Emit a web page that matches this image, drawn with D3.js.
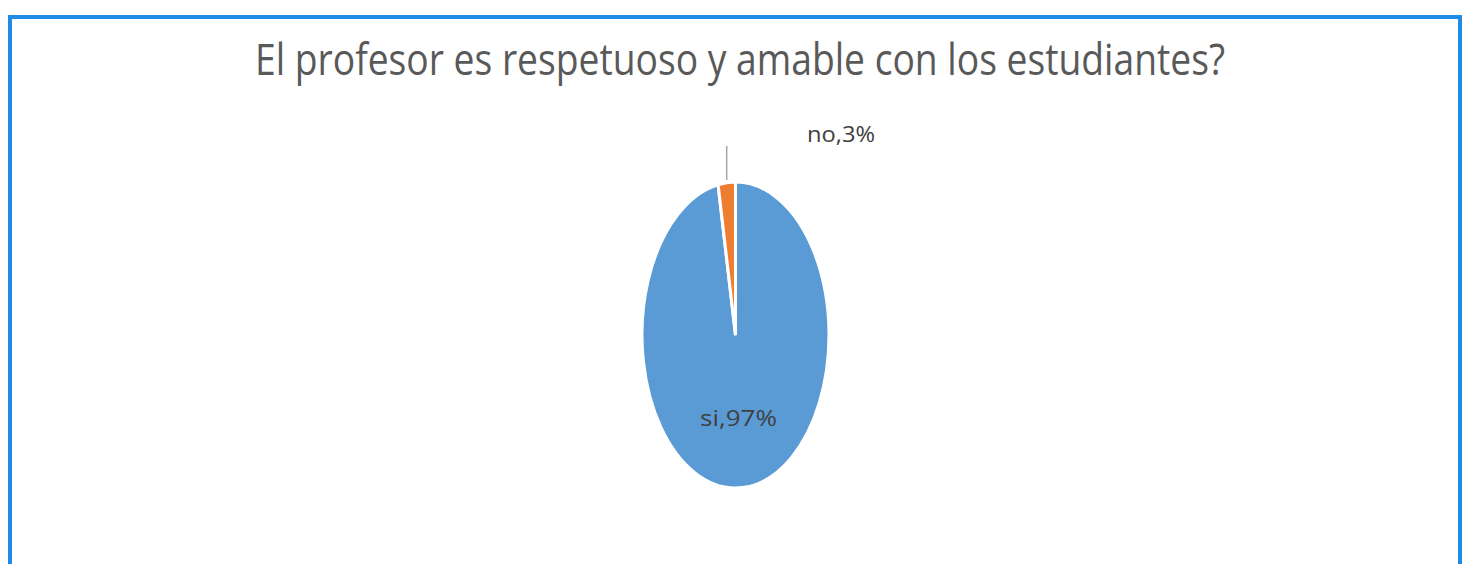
<!DOCTYPE html>
<html>
<head>
<meta charset="utf-8">
<script src="https://cdn.jsdelivr.net/npm/d3@7"></script>
<style>
  body { margin: 0; background: #fff; }
  svg { display: block; }
</style>
</head>
<body>
<svg id="chart" width="1464" height="564"></svg>
<script>
// Chart data
const categories = ['si', 'no'];
const values = [97, 3];
const colors = ['#5b9bd5', '#ed7d31'];
const title = 'El profesor es respetuoso y amable con los estudiantes?';

const svg = d3.select('#chart');

// Frame round the chart
svg.append('rect')
  .attr('x', 10)
  .attr('y', 17)
  .attr('width', 1450)
  .attr('height', 550)
  .attr('fill', '#fff')
  .attr('stroke', '#1f8be6')
  .attr('stroke-width', 4);

// Title (the picture is squashed horizontally, so stretch to fit)
svg.append('text')
  .attr('x', 255)
  .attr('y', 75)
  .attr('textLength', 970)
  .attr('lengthAdjust', 'spacingAndGlyphs')
  .style('font-family', '"Open Sans", sans-serif')
  .style('font-size', '43px')
  .style('fill', '#595959')
  .text(title);

// Pie: drawn as a circle, then squashed into the ellipse seen in the picture
const cx = 735.5;
const cy = 335;
const r = 154;
const sx = 93.5 / r;

const pie = d3.pie().sort(null).value((d) => d.value);
const arcs = pie(categories.map((c, i) => ({ name: c, value: values[i], color: colors[i] })));
const arc = d3.arc().innerRadius(0).outerRadius(r);

const g = svg.append('g')
  .attr('transform', `translate(${cx},${cy}) scale(${sx},1)`);

g.selectAll('path')
  .data(arcs)
  .enter()
  .append('path')
  .attr('d', arc)
  .attr('fill', (d) => d.data.color)
  .attr('stroke', '#fff')
  .attr('stroke-width', 5);

// Leader line for the small slice
const small = arcs[1];
const mid = (small.startAngle + small.endAngle) / 2;
const lx = cx + Math.sin(mid) * r * sx;
svg.append('line')
  .attr('x1', lx)
  .attr('x2', lx)
  .attr('y1', cy - r - 1)
  .attr('y2', cy - r - 35)
  .attr('stroke', '#a6a6a6')
  .attr('stroke-width', 1.5);

// Data labels
const labelStyle = (sel) => sel
  .style('font-family', '"Open Sans", sans-serif')
  .style('font-size', '22px')
  .style('fill', '#404040')
  .attr('lengthAdjust', 'spacingAndGlyphs');

svg.append('text')
  .attr('x', 807)
  .attr('y', 142)
  .attr('textLength', 68)
  .call(labelStyle)
  .text(`${categories[1]},${values[1]}%`);

svg.append('text')
  .attr('x', 700)
  .attr('y', 426)
  .attr('textLength', 77)
  .call(labelStyle)
  .text(`${categories[0]},${values[0]}%`);
</script>
</body>
</html>
